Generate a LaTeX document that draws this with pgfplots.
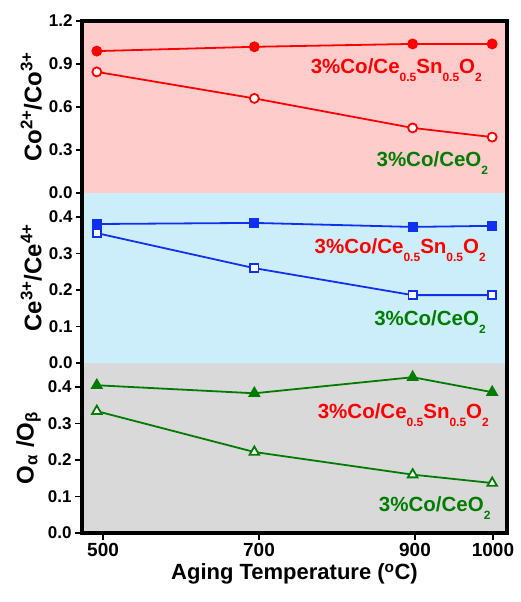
\documentclass[border=0pt]{standalone}
\usepackage{fontspec}
\setmainfont{Liberation Sans}
\usepackage{pgfplots}
\pgfplotsset{compat=1.18}
\definecolor{pinkbg}{RGB}{255,204,204}
\definecolor{bluebg}{RGB}{204,238,250}
\definecolor{graybg}{RGB}{217,217,217}
\definecolor{myred}{RGB}{255,0,0}
\definecolor{myblue}{RGB}{16,48,240}
\definecolor{mygreen}{RGB}{0,125,0}
\newcommand\lsub[1]{\raisebox{-8pt}{\fontsize{12}{12}\selectfont #1}}
\newcommand\labA{3\%Co/Ce\lsub{0.5}Sn\lsub{0.5}O\lsub{2}}
\newcommand\labB{3\%Co/CeO\lsub{2}}
\tikzset{lab/.style={font=\bfseries\fontsize{20.5}{20.5}\selectfont, anchor=base east, inner sep=0pt}}
\pgfplotsset{
  panel/.style={scale only axis, width=425pt, xmin=473, xmax=1018, ymin=0,
    ytick pos=left, tick align=outside, major tick length=6pt,
    axis line style={draw=none},
    every tick/.style={line width=1.8pt, black},
    /pgf/number format/assume math mode=true,
    yticklabel style={font=\bfseries\fontsize{17}{17}\selectfont,
      /pgf/number format/fixed, /pgf/number format/fixed zerofill,
      /pgf/number format/precision=1},
    ylabel style={font=\bfseries\fontsize{24}{24}\selectfont},
    clip=false},
  ser/.style={line width=1.8pt, mark size=4.5pt, #1, mark options={solid, line width=1.3pt}},
}
\begin{document}
\begin{tikzpicture}
\begin{axis}[panel, name=ax1, at={(0,0)}, anchor=north west, height=172pt,
  ymax=1.2, ytick={0,0.3,0.6,0.9,1.2}, xtick=\empty,
  axis background/.style={fill=pinkbg},
  ylabel={Co\textsuperscript{2+}/Co\textsuperscript{3+}}]
\addplot[ser=myred, mark=*, mark options={fill=myred}] coordinates {(492,0.99) (694,1.02) (897,1.04) (999,1.04)};
\addplot[ser=myred, mark=*, mark options={fill=white}] coordinates {(492,0.845) (694,0.66) (897,0.454) (999,0.39)};
\node[lab, text=myred] at (axis cs:986,0.837) {\labA};
\node[lab, text=mygreen] at (axis cs:994,0.188) {\labB};
\end{axis}
\begin{axis}[panel, name=ax2, at={(ax1.south west)}, anchor=north west, height=170pt,
  ymax=0.466, ytick={0,0.1,0.2,0.3,0.4}, xtick=\empty,
  axis background/.style={fill=bluebg},
  ylabel={Ce\textsuperscript{3+}/Ce\textsuperscript{4+}}]
\addplot[ser=myblue, mark=square*, mark size=4.2pt, mark options={fill=myblue}] coordinates {(492,0.381) (694,0.384) (897,0.373) (999,0.376)};
\addplot[ser=myblue, mark=square*, mark size=4.2pt, mark options={fill=white}] coordinates {(492,0.356) (694,0.26) (897,0.186) (999,0.186)};
\node[lab, text=myred] at (axis cs:991,0.299) {\labA};
\node[lab, text=mygreen] at (axis cs:991,0.104) {\labB};
\end{axis}
\begin{axis}[panel, name=ax3, at={(ax2.south west)}, anchor=north west, height=170pt,
  ymax=0.466, ytick={0,0.1,0.2,0.3,0.4}, xtick pos=bottom, major tick length=7pt,
  xtick={500,700,900,1000}, xticklabels={500,700,900,1000},
  xticklabel style={font=\bfseries\fontsize{19}{19}\selectfont},
  axis background/.style={fill=graybg},
  xlabel={Aging Temperature (\textsuperscript{o}C)},
  xlabel style={font=\bfseries\fontsize{22}{22}\selectfont},
  ylabel={O\textsubscript{α} /O\textsubscript{β}}]
\addplot[ser=mygreen, mark=triangle*, mark size=5.5pt, mark options={fill=mygreen}] coordinates {(492,0.405) (694,0.383) (897,0.427) (999,0.386)};
\addplot[ser=mygreen, mark=triangle*, mark size=5.5pt, mark options={fill=white}] coordinates {(492,0.334) (694,0.222) (897,0.160) (999,0.137)};
\node[lab, text=myred] at (axis cs:995,0.315) {\labA};
\node[lab, text=mygreen] at (axis cs:997,0.060) {\labB};
\end{axis}
\draw[draw=black, line width=4pt, line join=miter] (ax1.north west) -- (ax1.north east) -- (ax3.south east) -- (ax3.south west) -- cycle;
\path (-82pt,21pt) rectangle (438pt,-581pt);
\end{tikzpicture}
\end{document}
